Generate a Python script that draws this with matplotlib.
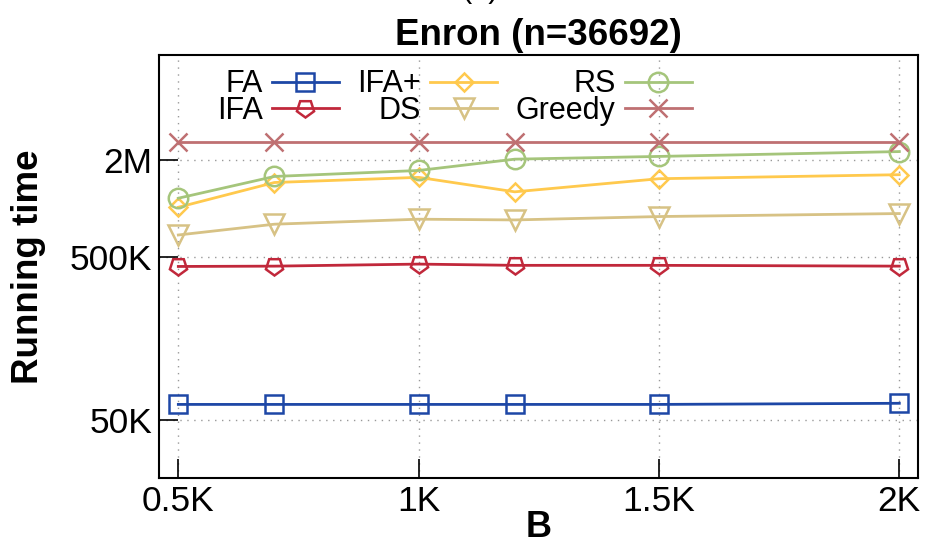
import matplotlib
matplotlib.use("Agg")
import matplotlib.pyplot as plt
from matplotlib.ticker import FixedLocator, FixedFormatter, NullLocator

plt.rcParams['font.family'] = ['Liberation Sans', 'DejaVu Sans']

# budget B
B = [500, 700, 1000, 1200, 1500, 2000]

# running time per method
FA = [62e3, 62e3, 62e3, 62e3, 62e3, 63e3]
IFA = [440e3, 442e3, 455e3, 447e3, 447e3, 442e3]
IFA_PLUS = [1.02e6, 1.45e6, 1.56e6, 1.27e6, 1.53e6, 1.62e6]
DS = [688e3, 802e3, 861e3, 852e3, 894e3, 933e3]
RS = [1.16e6, 1.58e6, 1.72e6, 2.02e6, 2.10e6, 2.25e6]
GREEDY = [2.57e6, 2.57e6, 2.57e6, 2.57e6, 2.57e6, 2.57e6]

XTICKS = [500, 1000, 1500, 2000]
XLABELS = ['0.5K', '1K', '1.5K', '2K']
YTICKS = [5e4, 5e5, 2e6]
YLABELS = ['50K', '500K', '2M']

series = [
    ('FA', FA, '#1d47a6', 's', 13),
    ('IFA', IFA, '#c1283b', (5, 0, 180), 13),
    ('IFA+', IFA_PLUS, '#ffc94d', 'D', 9.5),
    ('DS', DS, '#d7c285', 'v', 15),
    ('RS', RS, '#a5c57b', 'o', 14),
    ('Greedy', GREEDY, '#bf7072', 'x', 13.5),
]

fig = plt.figure(figsize=(9.27, 5.43), dpi=100)
ax = fig.add_axes([159 / 927, 1 - 478 / 543, 759 / 927, 423 / 543])

for name, vals, color, marker, ms in series:
    ax.plot(B, vals, color=color, lw=2, marker=marker, ms=ms,
            mfc='none', mec=color, mew=1.8, label=name, zorder=3)

ax.set_yscale('log')
ax.set_xlim(459.8, 2038.9)
ax.set_ylim(21.8e3, 8.87e6)

ax.xaxis.set_major_locator(FixedLocator(XTICKS))
ax.xaxis.set_major_formatter(FixedFormatter(XLABELS))
ax.yaxis.set_major_locator(FixedLocator(YTICKS))
ax.yaxis.set_major_formatter(FixedFormatter(YLABELS))
ax.yaxis.set_minor_locator(NullLocator())

ax.tick_params(axis='both', which='major', direction='in', length=14, width=1.2,
               labelsize=25.5, pad=5, top=False, right=False)
ax.grid(True, which='major', color='#999999', linestyle=(0, (1, 4)), linewidth=1)
for sp in ax.spines.values():
    sp.set_linewidth(1.5)

ax.set_xlabel('B', fontsize=26, fontweight='bold', labelpad=-6)
ax.set_ylabel('Running time', fontsize=26.5, fontweight='bold', labelpad=17)
ax.set_title('Enron (n=36692)', fontsize=26.5, fontweight='bold', pad=7)

fig.text(480 / 927, 1 + 3 / 543, '(a)', fontsize=22, ha='center', va='baseline')

ax.legend(ncol=3, loc='upper left', bbox_to_anchor=(0.06, 0.995), frameon=False,
          markerfirst=False, fontsize=22, handlelength=2.2, handletextpad=0.3,
          columnspacing=0.6, labelspacing=-0.12, borderaxespad=0)

fig.savefig('out.png', dpi=100)
